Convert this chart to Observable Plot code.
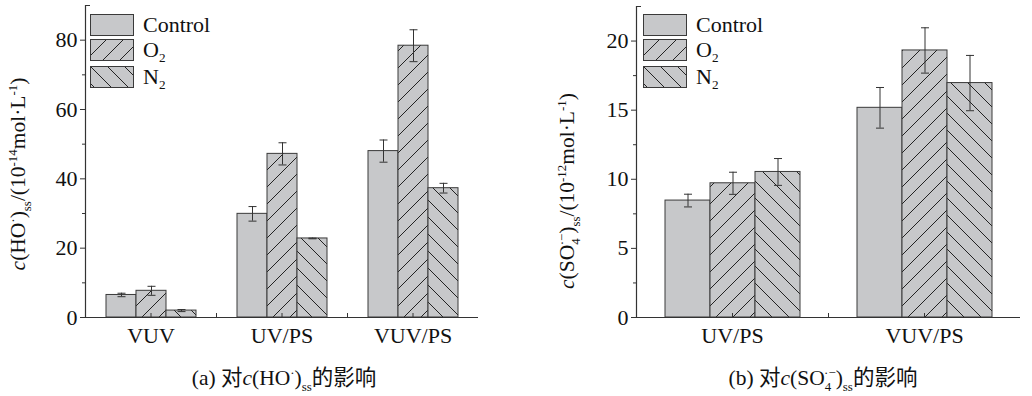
<!DOCTYPE html>
<html>
<head>
<meta charset="utf-8">
<script src="https://cdn.jsdelivr.net/npm/d3@7"></script>
<script src="https://cdn.jsdelivr.net/npm/@observablehq/plot@0.6"></script>
<style>
  body { margin: 0; background: #fff; }
  #wrap { position: relative; width: 1032px; height: 396px; overflow: hidden;
          font-family: "Liberation Serif", "Times New Roman", "Noto Sans CJK SC", serif; color: #111; }
  .panel { position: absolute; top: 0; }
  .ylab { position: absolute; white-space: nowrap; font-size: 21.5px; line-height: 1;
          transform: translate(-50%, -50%) rotate(-90deg); }
  sup, sub { font-size: 0.6em; line-height: 0; }
  .cap { position: absolute; white-space: nowrap; font-size: 21.5px; line-height: 1; transform: translate(-50%, -50%); }
  .leg { position: absolute; }
  .leg .row { position: absolute; left: 0; height: 21px; display: flex; align-items: center; white-space: nowrap; font-size: 22px; line-height: 1; }
  .leg svg { display: block; margin-right: 9px; }
</style>
</head>
<body>
<svg width="0" height="0" style="position:absolute">
  <defs>
    <pattern id="hatchO2" patternUnits="userSpaceOnUse" width="17" height="17">
      <rect width="17" height="17" fill="#c7c8ca"></rect>
      <path d="M0,17 L17,0 M-2,2 L2,-2 M15,19 L19,15" stroke="#222" stroke-width="1"></path>
    </pattern>
    <pattern id="hatchN2" patternUnits="userSpaceOnUse" width="17" height="17">
      <rect width="17" height="17" fill="#c7c8ca"></rect>
      <path d="M0,0 L17,17 M-2,15 L2,19 M15,-2 L19,2" stroke="#222" stroke-width="1"></path>
    </pattern>
  </defs>
</svg>
<div id="wrap">
  <div class="panel" id="pa" style="left:0px"></div>
  <div class="panel" id="pb" style="left:540px"></div>

  <div class="ylab" style="left:19px; top:174px"><i>c</i>(HO<sup>·</sup>)<sub>ss</sub>/(10<sup>-14</sup>mol·L<sup>-1</sup>)</div>
  <div class="ylab" style="left:568px; top:191px"><i>c</i>(SO<sub>4</sub><sup style="margin-left:-0.55em">·−</sup>)<sub>ss</sub>/(10<sup>-12</sup>mol·L<sup>-1</sup>)</div>

  <div class="leg" id="legA" style="left:90px; top:14px"></div>
  <div class="leg" id="legB" style="left:643px; top:14px"></div>

  <div class="cap" style="left:284px; top:379px">(a) 对<i>c</i>(HO<sup>·</sup>)<sub>ss</sub>的影响</div>
  <div class="cap" style="left:823px; top:379px">(b) 对<i>c</i>(SO<sub>4</sub><sup style="margin-left:-0.55em">·−</sup>)<sub>ss</sub>的影响</div>
</div>

<script>
// ---- data: panel (a) c(HO·)ss, 10^-14 mol/L ----
const groupsA = ["VUV", "UV/PS", "VUV/PS"];
const controlA = [6.5, 29.9, 48.0];
const controlErrA = [0.5, 2.1, 3.2];
const o2A = [7.7, 47.2, 78.4];
const o2ErrA = [1.3, 3.2, 4.6];
const n2A = [2.0, 22.8, 37.3];
const n2ErrA = [0.3, 0.1, 1.4];
const ticksA = [0, 20, 40, 60, 80];
const minorA = [10, 30, 50, 70];

// ---- data: panel (b) c(SO4·-)ss, 10^-12 mol/L ----
const groupsB = ["UV/PS", "VUV/PS"];
const controlB = [8.46, 15.17];
const controlErrB = [0.46, 1.47];
const o2B = [9.71, 19.32];
const o2ErrB = [0.80, 1.64];
const n2B = [10.53, 16.96];
const n2ErrB = [0.97, 2.00];
const ticksB = [0, 5, 10, 15, 20];
const minorB = [2.5, 7.5, 12.5, 17.5];

const series = ["Control", "O2", "N2"];
const seriesLabels = ["Control", "O<sub>2</sub>", "N<sub>2</sub>"];
const fills = ["#c7c8ca", "url(#hatchO2)", "url(#hatchN2)"];

const INK = "#111";
const LINE = "#333";
const FONT = '"Liberation Serif", "Times New Roman", serif';

const capSymbol = { draw(ctx) { ctx.moveTo(-4, 0); ctx.lineTo(4, 0); } };

function buildRows(groups, vals, errs) {
  const rows = [];
  groups.forEach((g, i) => {
    series.forEach((s, j) => rows.push({ group: g, series: s, value: vals[j][i], err: errs[j][i] }));
  });
  return rows;
}

function panel(groups, vals, errs, cfg) {
  const rows = buildRows(groups, vals, errs);
  const innerH = cfg.height - cfg.mt - cfg.mb;
  return Plot.plot({
    width: cfg.width, height: cfg.height,
    marginLeft: cfg.ml, marginRight: cfg.mr, marginTop: cfg.mt, marginBottom: cfg.mb,
    style: { fontFamily: FONT, fontSize: "22px", color: INK, background: "transparent", overflow: "visible" },
    fx: { domain: groups, padding: 0, label: null },
    x: { domain: series, paddingInner: 0, paddingOuter: cfg.po, axis: null },
    y: { domain: [0, cfg.ymax] },
    color: { domain: series, range: fills },
    marks: [
      Plot.barY(rows, { fx: "group", x: "series", y: "value", fill: "series", stroke: "#3a3a3a", strokeWidth: 1 }),
      Plot.ruleX(rows, { fx: "group", x: "series", y1: d => d.value - d.err, y2: d => d.value + d.err, stroke: LINE, strokeWidth: 1 }),
      Plot.dot(rows, { fx: "group", x: "series", y: d => d.value + d.err, symbol: capSymbol, fill: "none", stroke: LINE, strokeWidth: 1 }),
      Plot.dot(rows, { fx: "group", x: "series", y: d => d.value - d.err, symbol: capSymbol, fill: "none", stroke: LINE, strokeWidth: 1 }),
      Plot.ruleY([0], { stroke: LINE, strokeWidth: 1.2 }),
      Plot.frame({ anchor: "left", insetTop: innerH - 4, stroke: LINE, strokeWidth: 1 }),
      Plot.frame({ anchor: "left", facetAnchor: "left", stroke: LINE, strokeWidth: 1.2 }),
      Plot.axisY(cfg.ticks, { anchor: "left", tickSize: 5, tickPadding: 3, label: null, fontSize: 22, stroke: LINE }),
      Plot.axisY(cfg.minor, { anchor: "left", tickSize: 3, tickFormat: () => "", label: null, stroke: LINE }),
      Plot.axisY([cfg.ymax], { anchor: "left", tickSize: -5, tickFormat: () => "", label: null, stroke: LINE }),
      Plot.axisFx({ anchor: "bottom", tickSize: -4, tickPadding: 14, label: null, fontSize: 22, stroke: LINE })
    ]
  });
}

document.getElementById("pa").append(panel(groupsA, [controlA, o2A, n2A], [controlErrA, o2ErrA, n2ErrA],
  { width: 500, height: 350, ml: 85, mr: 22, mt: 5, mb: 33, po: 0.62, ymax: 90, ticks: ticksA, minor: minorA }));
document.getElementById("pb").append(panel(groupsB, [controlB, o2B, n2B], [controlErrB, o2ErrB, n2ErrB],
  { width: 490, height: 350, ml: 96, mr: 10, mt: 6, mb: 33, po: 0.6, ymax: 22.5, ticks: ticksB, minor: minorB }));

// legends
function legend(id) {
  const el = document.getElementById(id);
  const tops = [0, 25, 52];
  series.forEach((s, i) => {
    const row = document.createElement("div");
    row.className = "row";
    row.style.top = tops[i] + "px";
    row.innerHTML = `<svg width="44" height="22"><rect x="0.5" y="0.5" width="43" height="21" fill="${fills[i]}" stroke="#3a3a3a" stroke-width="1"></rect></svg><span>${seriesLabels[i]}</span>`;
    el.append(row);
  });
}
legend("legA");
legend("legB");
</script>
</body>
</html>
